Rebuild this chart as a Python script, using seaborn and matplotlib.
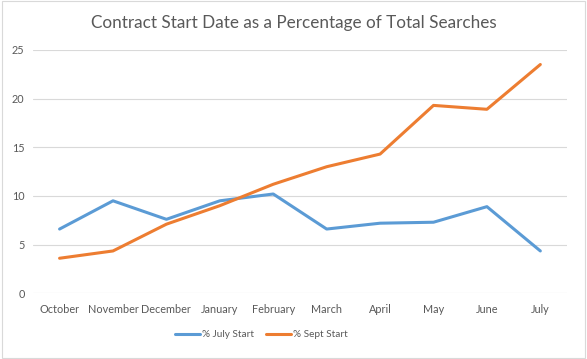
import numpy as np
import pandas as pd
import matplotlib
matplotlib.use("Agg")
import matplotlib.pyplot as plt
import seaborn as sns

months = ["October", "November", "December", "January", "February",
          "March", "April", "May", "June", "July"]
july_start = [6.6, 9.5, 7.6, 9.5, 10.2, 6.6, 7.2, 7.3, 8.9, 4.35]
sept_start = [3.6, 4.35, 7.1, 9.0, 11.2, 13.0, 14.3, 19.3, 18.9, 23.5]
series_names = ["% July Start", "% Sept Start"]
colors = ["#5B9BD5", "#ED7D31"]

df = pd.DataFrame({"month": months * 2,
                   "value": july_start + sept_start,
                   "series": [series_names[0]] * len(months) + [series_names[1]] * len(months)})
df["x"] = list(range(len(months))) * 2

sns.set_style("white")
plt.rcParams["font.family"] = ["Lato", "DejaVu Sans"]
text_col = "#595959"

fig = plt.figure(figsize=(5.87, 3.59), dpi=100)
ax = fig.add_axes([0.056, 0.183, 0.91, 0.678])

sns.lineplot(data=df, x="x", y="value", hue="series", palette=colors,
             linewidth=2.2, ax=ax, legend=False)

ax.set_xlim(-0.5, len(months) - 0.5)
ax.set_ylim(0, 25)
ax.set_yticks(range(0, 26, 5))
ax.set_xticks(range(len(months)))
ax.set_xticklabels(months)
ax.tick_params(axis="both", length=0, labelsize=7.8, colors=text_col, pad=6)
ax.tick_params(axis="x", pad=8)
ax.grid(axis="y", color="#D9D9D9", linewidth=0.8)
ax.set_axisbelow(True)
for s in ax.spines.values():
    s.set_visible(False)
ax.set_xlabel("")
ax.set_ylabel("")

fig.text(0.5, 0.935, "Contract Start Date as a Percentage of Total Searches",
         ha="center", va="center", fontsize=12.3, color=text_col)

handles = [plt.Line2D([], [], color=c, linewidth=2.2) for c in colors]
fig.legend(handles, series_names, loc="center", bbox_to_anchor=(0.445, 0.067),
           ncol=2, frameon=False, fontsize=7.2, labelcolor=text_col,
           handlelength=2.5, handletextpad=0.2, columnspacing=1.2)

border = plt.Rectangle((0.003, 0.003), 0.994, 0.994, transform=fig.transFigure,
                       fill=False, edgecolor="#D9D9D9", linewidth=0.8)
fig.patches.append(border)

fig.savefig("out.png", dpi=100)
plt.close(fig)
